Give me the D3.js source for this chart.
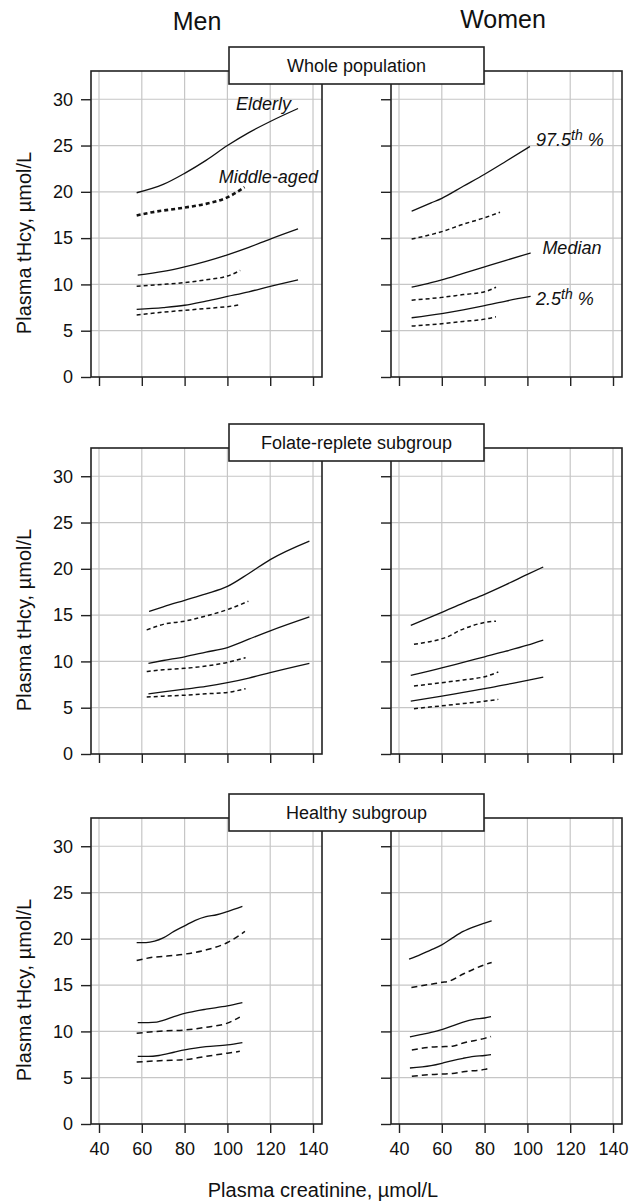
<!DOCTYPE html>
<html>
<head>
<meta charset="utf-8">
<script src="https://d3js.org/d3.v7.min.js"></script>
<style>
  body { margin: 0; background: #fff; }
  text { font-family: "Liberation Sans", Arial, sans-serif; fill: #111; }
</style>
</head>
<body>
<div id="my_dataviz"></div>
<script>
// ---- data ----
var groups = ["Whole population", "Folate-replete subgroup", "Healthy subgroup"];
var sexes = ["Men", "Women"];
var xTicks = [40, 60, 80, 100, 120, 140];
var yTicks = [0, 5, 10, 15, 20, 25, 30];

// each array: [2.5th, median, 97.5th], points are [creatinine, tHcy]
var menWholeElderly = [
  [[57.6,7.3],[70,7.5],[80,7.75],[90,8.2],[100,8.7],[110,9.2],[120,9.8],[133,10.5]],
  [[58.1,11.0],[70,11.4],[80,11.9],[90,12.5],[100,13.2],[110,14.0],[120,14.9],[133,16.0]],
  [[57.6,19.9],[70,20.8],[80,22.0],[90,23.4],[100,25.0],[110,26.4],[120,27.6],[133,29.0]]
];
var menWholeMiddle = [
  [[57.6,6.7],[70,7.0],[80,7.2],[90,7.4],[100,7.6],[106,7.8]],
  [[57.6,9.8],[70,10.0],[80,10.2],[90,10.5],[100,10.9],[106,11.5]],
  [[57.6,17.45],[65,17.8],[80,18.3],[90,18.7],[100,19.4],[108,20.5]]
];
var womenWholeElderly = [
  [[45.9,6.4],[60,6.85],[70,7.25],[80,7.7],[90,8.2],[101.5,8.7]],
  [[45.9,9.7],[55,10.2],[60,10.5],[70,11.2],[80,11.9],[90,12.6],[101.5,13.4]],
  [[45.9,17.9],[55,18.8],[60,19.3],[70,20.6],[80,21.9],[90,23.3],[101.2,24.9]]
];
var womenWholeMiddle = [
  [[45.9,5.5],[60,5.75],[70,6.0],[80,6.25],[85.3,6.5]],
  [[45.9,8.3],[60,8.6],[70,8.9],[80,9.2],[85.3,9.7]],
  [[45.9,14.9],[60,15.7],[70,16.5],[80,17.2],[87.2,17.8]]
];
var menFolateElderly = [
  [[63.1,6.5],[70,6.7],[80,7.0],[90,7.3],[100,7.7],[110,8.2],[120,8.8],[138.3,9.8]],
  [[63.1,9.8],[70,10.1],[80,10.5],[90,11.0],[100,11.5],[110,12.4],[120,13.3],[138.3,14.8]],
  [[63.4,15.4],[70,15.9],[80,16.6],[90,17.3],[100,18.1],[110,19.5],[120,21.0],[138.3,23.0]]
];
var menFolateMiddle = [
  [[62.3,6.15],[70,6.25],[80,6.35],[90,6.5],[100,6.65],[108.5,7.05]],
  [[62.3,8.9],[70,9.1],[80,9.25],[90,9.5],[100,9.9],[108.5,10.4]],
  [[62.3,13.4],[70,14.0],[80,14.35],[90,14.9],[100,15.6],[109.8,16.5]]
];
var womenFolateElderly = [
  [[45.5,5.7],[60,6.25],[70,6.65],[80,7.05],[90,7.5],[100,7.95],[107.4,8.3]],
  [[45.5,8.5],[60,9.3],[70,9.9],[80,10.5],[90,11.1],[100,11.75],[107.4,12.3]],
  [[45.5,13.9],[60,15.3],[70,16.3],[80,17.25],[90,18.3],[100,19.4],[107.4,20.2]]
];
var womenFolateMiddle = [
  [[47,4.9],[60,5.2],[70,5.45],[80,5.7],[86.4,5.9]],
  [[47,7.35],[60,7.7],[70,8.0],[80,8.35],[86.4,8.85]],
  [[47,11.85],[60,12.45],[62,12.6],[69,13.4],[80,14.2],[85.3,14.35]]
];
var menHealthyElderly = [
  [[58.1,7.3],[63,7.3],[68,7.4],[75,7.75],[80,8.0],[85,8.2],[90,8.35],[100,8.55],[107,8.8]],
  [[58.1,10.95],[63,10.95],[67,11.0],[70,11.2],[75,11.6],[80,11.95],[85,12.2],[90,12.4],[100,12.75],[107,13.1]],
  [[57.6,19.6],[62,19.6],[66,19.75],[70,20.1],[75,20.8],[80,21.4],[85,22.0],[90,22.4],[95,22.6],[100,22.95],[107,23.5]]
];
var menHealthyMiddle = [
  [[57.6,6.7],[70,6.85],[80,6.95],[90,7.3],[100,7.65],[105.8,7.85]],
  [[57.6,9.8],[70,10.05],[80,10.15],[90,10.45],[100,10.9],[105.8,11.55]],
  [[57.6,17.65],[65,18.0],[70,18.1],[80,18.35],[90,18.8],[100,19.6],[108.2,20.8]]
];
var womenHealthyElderly = [
  [[45.1,6.05],[55,6.3],[60,6.55],[65,6.85],[70,7.1],[75,7.3],[80,7.4],[83,7.5]],
  [[45.1,9.4],[50,9.65],[55,9.9],[60,10.2],[65,10.6],[70,11.0],[75,11.3],[80,11.45],[83,11.6]],
  [[44.7,17.8],[50,18.3],[55,18.8],[60,19.35],[65,20.1],[70,20.8],[75,21.3],[80,21.7],[83.3,21.95]]
];
var womenHealthyMiddle = [
  [[46,5.15],[55,5.35],[60,5.4],[65,5.45],[70,5.65],[80,5.9],[83,6.1]],
  [[46,8.0],[55,8.3],[60,8.35],[65,8.4],[70,8.75],[80,9.25],[83,9.45]],
  [[45.8,14.75],[55,15.1],[60,15.3],[63,15.4],[70,16.2],[80,17.2],[83.3,17.45]]
];

var elderly = [
  [menWholeElderly, womenWholeElderly],
  [menFolateElderly, womenFolateElderly],
  [menHealthyElderly, womenHealthyElderly]
];
var middle = [
  [menWholeMiddle, womenWholeMiddle],
  [menFolateMiddle, womenFolateMiddle],
  [menHealthyMiddle, womenHealthyMiddle]
];

// ---- layout ----
var width = 643, height = 1201;
var colLeft = [91, 391];
var panelW = 231, panelH = 306;
var rowTop = [71, 448, 818];

var svg = d3.select("#my_dataviz")
  .append("svg")
  .attr("width", width)
  .attr("height", height);

var line = d3.line().curve(d3.curveMonotoneX);

groups.forEach(function(g, r) {
  sexes.forEach(function(s, c) {
    var left = colLeft[c], top = rowTop[r];

    var x = d3.scaleLinear().domain([36.26, 144.2]).range([left, left + panelW]);
    var y = d3.scaleLinear().domain([0, 33.05]).range([top + panelH, top]);

    var p = svg.append("g");

    // grid
    p.selectAll("vgrid").data(xTicks).enter().append("line")
      .attr("x1", function(d) { return x(d) }).attr("x2", function(d) { return x(d) })
      .attr("y1", top).attr("y2", top + panelH)
      .attr("stroke", "#c6c6c6").attr("stroke-width", 1.2);
    p.selectAll("hgrid").data(yTicks.slice(1)).enter().append("line")
      .attr("x1", left).attr("x2", left + panelW)
      .attr("y1", function(d) { return y(d) }).attr("y2", function(d) { return y(d) })
      .attr("stroke", "#c6c6c6").attr("stroke-width", 1.2);

    // frame
    p.append("rect")
      .attr("x", left).attr("y", top)
      .attr("width", panelW).attr("height", panelH)
      .attr("fill", "none").attr("stroke", "#222").attr("stroke-width", 1.6);

    // y axis
    var ya = p.append("g")
      .attr("transform", "translate(" + left + ",0)")
      .call(d3.axisLeft(y).tickValues(yTicks).tickSize(10).tickPadding(8)
        .tickFormat(c == 0 ? d3.format("d") : ""));
    ya.select(".domain").remove();
    ya.selectAll("line").attr("stroke", "#222").attr("stroke-width", 1.4);
    ya.selectAll("text").attr("font-size", 18).attr("font-family", "Liberation Sans, Arial, sans-serif").attr("fill", "#111");

    // x axis
    var xa = p.append("g")
      .attr("transform", "translate(0," + (top + panelH) + ")")
      .call(d3.axisBottom(x).tickValues(xTicks).tickSize(9).tickPadding(9)
        .tickFormat(r == 2 ? d3.format("d") : ""));
    xa.select(".domain").remove();
    xa.selectAll("line").attr("stroke", "#222").attr("stroke-width", 1.4);
    xa.selectAll("text").attr("font-size", 18).attr("font-family", "Liberation Sans, Arial, sans-serif").attr("fill", "#111");

    line.x(function(d) { return x(d[0]) }).y(function(d) { return y(d[1]) });

    // middle-aged (dashed) curves
    var dash = r == 2 ? "6,4" : "4,3";
    p.selectAll("mid").data(middle[r][c]).enter().append("path")
      .attr("d", line)
      .attr("fill", "none").attr("stroke", "#111")
      .attr("stroke-width", function(d, i) { return (r == 0 && c == 0 && i == 2) ? 2.6 : 1.5 })
      .attr("stroke-dasharray", dash);

    // elderly (solid) curves
    p.selectAll("eld").data(elderly[r][c]).enter().append("path")
      .attr("d", line)
      .attr("fill", "none").attr("stroke", "#111").attr("stroke-width", 1.3);

    // annotations in first row
    if (r == 0 && c == 0) {
      p.append("text").attr("x", x(104)).attr("y", 110)
        .attr("font-size", 18).attr("font-style", "italic").text("Elderly");
      p.append("text").attr("x", x(96)).attr("y", 183)
        .attr("font-size", 18).attr("font-style", "italic").text("Middle-aged");
    }
    if (r == 0 && c == 1) {
      var t = p.append("text").attr("x", x(104)).attr("y", 146)
        .attr("font-size", 18).attr("font-style", "italic");
      t.append("tspan").text("97.5");
      t.append("tspan").attr("dy", -6).attr("font-size", 14).text("th");
      t.append("tspan").attr("dy", 6).text(" %");
      p.append("text").attr("x", x(107)).attr("y", 254)
        .attr("font-size", 18).attr("font-style", "italic").text("Median");
      var t2 = p.append("text").attr("x", x(104)).attr("y", 305)
        .attr("font-size", 18).attr("font-style", "italic");
      t2.append("tspan").text("2.5");
      t2.append("tspan").attr("dy", -6).attr("font-size", 14).text("th");
      t2.append("tspan").attr("dy", 6).text(" %");
    }

    // y label
    if (c == 0) {
      svg.append("text")
        .attr("transform", "translate(31," + (top + panelH / 2 + 19) + ") rotate(-90)")
        .attr("text-anchor", "middle")
        .attr("font-size", 20)
        .text("Plasma tHcy, \u00b5mol/L");
    }
  });

  // strip box
  var top = rowTop[r];
  svg.append("rect")
    .attr("x", 229).attr("y", top - 24)
    .attr("width", 255).attr("height", 37)
    .attr("fill", "#fff").attr("stroke", "#222").attr("stroke-width", 1.6);
  svg.append("text")
    .attr("x", 356.5).attr("y", top + 1)
    .attr("text-anchor", "middle")
    .attr("font-size", 18)
    .text(g);
});

// column headers
svg.append("text").attr("x", 197).attr("y", 30)
  .attr("text-anchor", "middle").attr("font-size", 25).text("Men");
svg.append("text").attr("x", 503).attr("y", 28)
  .attr("text-anchor", "middle").attr("font-size", 25).text("Women");

// x label
svg.append("text").attr("x", 323).attr("y", 1197)
  .attr("text-anchor", "middle").attr("font-size", 20)
  .text("Plasma creatinine, \u00b5mol/L");
</script>
</body>
</html>
